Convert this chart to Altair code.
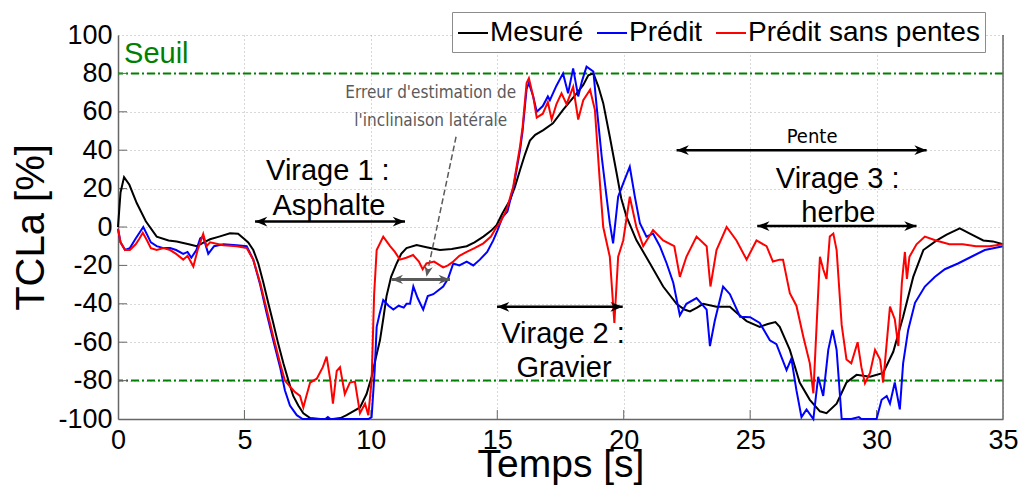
import altair as alt
import pandas as pd
import math

# ---------------- data ----------------
# Mesuré (black)
t_mes = [0, 0.1, 0.24, 0.45, 0.74, 1.1, 1.53, 2.0, 2.32, 2.8, 3.11, 3.4, 3.64, 4.0, 4.43, 4.75, 4.96,
         5.15, 5.35, 5.55, 5.75, 5.95, 6.14, 6.34, 6.54, 6.74, 6.93, 7.13, 7.33, 7.6, 8.0, 8.5, 8.8,
         9.04, 9.3, 9.57, 9.83, 10.03, 10.2, 10.36, 10.5, 10.62, 10.8, 11.02, 11.2, 11.41, 11.81, 12.2,
         12.73, 13.2, 13.79, 14.1, 14.45, 14.75, 14.97, 15.2, 15.5, 15.7, 15.9, 16.1, 16.29, 16.5,
         16.82, 17.2, 17.6, 18.14, 18.4, 18.6, 18.8, 19.0, 19.19, 19.45, 19.72, 19.9, 20.11, 20.5,
         21.04, 21.56, 22.09, 22.4, 22.62, 22.9, 23.14, 23.67, 24.2, 24.5, 24.86, 25.38, 25.7, 26.0,
         26.17, 26.57, 26.96, 27.36, 27.76, 28.02, 28.42, 28.81, 29.21, 29.74, 30.26, 30.66, 31.05,
         31.45, 31.85, 32.38, 32.77, 33.29, 33.69, 34.22, 34.6, 35.0]
v_mes = [0, 18, 26, 22, 12.5, 3, -5, -7, -7.6, -9, -10, -8, -6.4, -5, -3.3, -3.5, -5.9,
         -8, -12, -19, -29, -40, -50, -61, -71, -80, -88, -93, -97, -99.5, -100, -100, -99.5,
         -98, -96, -94, -87, -78, -68, -59, -47, -36, -26, -19, -14, -11, -9.4, -10.5,
         -12, -11.5, -10, -8, -5, -2, 1, 7, 14, 21, 29.7, 38, 45, 48,
         50.5, 54, 61, 69.6, 74, 79, 80, 73, 64.5, 47, 28, 15, 5.4, -6.8,
         -19, -31, -40, -43, -44, -42, -40, -41.5, -41.5, -45, -49, -52, -50.5, -49.5,
         -52, -64, -81, -90, -96, -97, -92, -81, -77, -78, -76, -65, -46.7,
         -26, -12, -7, -4, -0.7, -3.4, -7, -7.5, -9]

# Prédit (blue)
t_pred = [0, 0.1, 0.28, 0.47, 0.7, 0.85, 1.0, 1.15, 1.3, 1.53, 1.8, 2.06, 2.3, 2.58, 2.75, 2.9, 3.1,
          3.25, 3.37, 3.57, 3.8, 4.17, 4.7, 5.09, 5.35, 5.62, 5.88, 6.14, 6.41, 6.6, 6.8, 7.07, 7.3,
          8.2, 8.3, 8.4, 9.9, 10.03, 10.15, 10.23, 10.35, 10.49, 10.7, 10.89, 11.1, 11.3, 11.41,
          11.55, 11.68, 11.85, 12.07, 12.25, 12.47, 12.86, 13.05, 13.26, 13.5, 13.79, 14.05, 14.31,
          14.6, 14.84, 15.0, 15.2, 15.4, 15.63, 15.9, 16.0, 16.16, 16.25, 16.42, 16.56, 16.8, 17.0,
          17.08, 17.34, 17.6, 17.8, 18.0, 18.2, 18.35, 18.53, 18.8, 18.93, 19.13, 19.32, 19.45,
          19.58, 19.78, 19.98, 20.24, 20.44, 20.64, 20.9, 21.16, 21.43, 21.7, 21.96, 22.22, 22.48,
          22.88, 23.28, 23.41, 23.6, 23.93, 24.2, 24.6, 25.0, 25.38, 25.78, 26.04, 26.44, 26.63,
          26.83, 27.03, 27.23, 27.5, 27.69, 27.89, 28.09, 28.26, 28.42, 28.62, 29.0, 29.3, 29.4,
          30.0, 30.2, 30.4, 30.53, 30.72, 30.92, 31.05, 31.25, 31.52, 31.91, 32.3, 32.7, 33.22,
          33.75, 34.28, 35.0]
v_pred = [-1, -8, -12, -11, -6, -3, 0, -4, -8, -10, -11, -11, -12, -14, -13, -16, -12,
          -6, -5, -14, -10, -9, -9.5, -10, -17, -30, -45, -59, -73, -85, -93, -98, -100,
          -100, -99, -100, -100, -99, -75, -52, -45, -38, -41, -43, -41, -42, -40,
          -40, -31, -37, -43, -36, -35, -31, -27, -19, -20, -18, -20, -17,
          -13, -7, -2, 5, 8, 20, 40, 50, 72, 75, 68, 60, 63, 68,
          66, 73.6, 80, 69.6, 82.6, 68, 76, 83.5, 81, 62.7, 36.6, 15.8, 2,
          -8.5, 15.8, 22.7, 31.4, 15.8, 2, -5, -3.4, -10, -19, -29, -46, -40,
          -37, -43, -62, -49, -31, -35, -46.7, -47, -50, -59, -61, -74.5, -68.5,
          -85, -99, -95, -100, -78, -88, -64, -53.6, -64, -100, -100, -99, -100,
          -100, -90, -88, -92, -81, -95, -71, -53.6, -39.5, -31, -26, -22, -19,
          -15.5, -12, -10]

# Prédit sans pentes (red)
t_psp = [0, 0.1, 0.28, 0.47, 0.7, 0.85, 0.98, 1.15, 1.3, 1.53, 1.8, 2.06, 2.3, 2.58, 2.75, 2.98,
         3.15, 3.37, 3.5, 3.64, 4.17, 4.7, 5.09, 5.35, 5.62, 5.88, 6.14, 6.41, 6.6, 6.86, 7.0, 7.2,
         7.33, 7.45, 7.6, 7.86, 8.1, 8.25, 8.4, 8.5, 8.65, 8.78, 8.97, 9.17, 9.37, 9.57, 9.77, 9.9,
         10.03, 10.13, 10.23, 10.49, 10.76, 10.95, 11.15, 11.4, 11.67, 11.9, 12.05, 12.2, 12.5,
         12.86, 13.05, 13.26, 13.5, 13.79, 14.1, 14.45, 14.75, 14.97, 15.1, 15.37, 15.63, 15.9,
         16.0, 16.16, 16.25, 16.42, 16.56, 16.8, 17.0, 17.15, 17.34, 17.54, 17.74, 18.0, 18.2,
         18.4, 18.67, 18.86, 19.06, 19.19, 19.45, 19.63, 19.78, 19.98, 20.24, 20.5, 20.77, 21.16,
         21.56, 22.0, 22.22, 22.48, 22.88, 23.28, 23.43, 23.67, 24.07, 24.46, 24.86, 25.25, 25.65,
         25.9, 26.17, 26.3, 26.57, 26.83, 27.1, 27.36, 27.5, 27.63, 27.76, 27.89, 28.02, 28.15,
         28.29, 28.42, 28.62, 28.81, 29.0, 29.25, 29.4, 29.54, 29.74, 29.94, 30.14, 30.26, 30.53,
         30.72, 30.86, 31.0, 31.12, 31.2, 31.3, 31.58, 31.91, 32.35, 32.88, 33.41, 33.93, 34.46,
         35.0]
v_psp = [-1, -8, -12, -12, -9, -6, -3, -7, -11, -12, -11, -12, -14, -17, -15, -20.6,
         -12, -3.6, -10, -8, -9.5, -10, -11, -17, -29, -43, -57, -71, -80, -84, -86, -88,
         -94, -88, -81, -79, -73, -67.5, -80, -92, -75, -73, -87, -81, -80.5, -97, -92, -98,
         -80, -35, -12, -5, -10, -13, -17, -16, -14.6, -18, -22, -19, -18,
         -21, -20, -18, -15, -13, -11, -8.5, -5, 0, 2, 9, 21, 42,
         52, 75, 77.5, 68, 57, 59, 65, 56, 64, 69.6, 64, 73, 56,
         66, 71.5, 61, 22.7, 0, -15.5, -50, -15.5, -7, 15.8, 0, -10, -1.6,
         -7, -10, -26, -15.5, -5, -10, -31, -12, 0, -7, -17, -7, -10,
         -18, -17, -17, -34.5, -41, -57, -71, -86.6, -51, -15.5, -22, -27, -5,
         -3.4, -12, -51, -69, -71, -60, -73, -81.4, -76, -64, -69, -81, -41.5,
         -48, -62, -29, -13, -27, -15.5, -9, -5, -7, -9, -9, -10, -10,
         -9]

series_names = ["Mesuré", "Prédit", "Prédit sans pentes"]
series_colors = ["#000000", "#0000ff", "#ff0000"]

x_ticks = [0, 5, 10, 15, 20, 25, 30, 35]
y_ticks = [-100, -80, -60, -40, -20, 0, 20, 40, 60, 80, 100]
thresholds = [80, -80]

# annotations (data coordinates)
black_labels = ["Virage 1 :", "Asphalte", "Virage 2 :", "Gravier", "Virage 3 :", "herbe"]
black_label_t = [8.3, 8.34, 17.6, 17.64, 28.46, 28.49]
black_label_v = [24.5, 6.25, -60.5, -78, 20.3, 2.6]

gray_labels = ["Erreur d'estimation de", "l'inclinaison latérale"]
gray_label_t = [12.37, 12.37]
gray_label_v = [67.2, 52.6]

pente_label = ["Pente"]
pente_t = [27.45]
pente_v = [43.75]

seuil_label = ["Seuil"]
seuil_t = [0.24]
seuil_v = [85.4]

# black double arrows
arrow_v = [2.8, -41.6, 40.0, 0.5]
arrow_t1 = [5.42, 14.99, 22.09, 25.28]
arrow_t2 = [11.35, 19.96, 31.98, 31.58]

# grey double arrow
garrow_v = [-27.3]
garrow_t1 = [10.82]
garrow_t2 = [13.13]

# dashed pointer arrow (start -> end)
dash_t = [13.37, 12.2]
dash_v = [47.0, -25.9]

# ---------------- chart ----------------
W, H = 885, 384
FONT = "Liberation Sans, Arial, Helvetica, sans-serif"
NARROW = "Liberation Sans Narrow, Arial Narrow, DejaVu Sans Condensed, sans-serif"
GREEN = "#008000"
GREY = "#5a5a5a"
HEAD = "M0,0L-2,-0.8L-1.4,0L-2,0.8Z"

x_scale = alt.Scale(domain=[0, 35], nice=False, zero=False)
y_scale = alt.Scale(domain=[-100, 100], nice=False, zero=False)

x_axis = alt.Axis(values=x_ticks, title="Temps [s]", titleFont=FONT, titleFontSize=39,
                  titleFontWeight="normal", titleColor="black", titleY=57,
                  titleBaseline="alphabetic", labelFont=FONT, labelFontSize=27,
                  labelColor="black", labelPadding=8, labelFlush=False, labelOverlap=False,
                  labelExpr="'' + datum.value", ticks=False, domainColor="#666666",
                  domainWidth=1.5, grid=True, gridColor="#b0b0b0", gridDash=[1, 3],
                  gridWidth=1)
y_axis = alt.Axis(values=y_ticks, title="TCLa [%]", titleFont=FONT, titleFontSize=40,
                  titleFontWeight="normal", titleColor="black", titleX=-75, titleY=H / 2,
                  titleAngle=270, titleBaseline="alphabetic", titleAlign="center",
                  labelFont=FONT, labelFontSize=27, labelColor="black", labelPadding=6,
                  labelFlush=False, labelOverlap=False, labelExpr="'' + datum.value",
                  ticks=False, domainColor="#666666", domainWidth=1.5, grid=True,
                  gridColor="#b0b0b0", gridDash=[1, 3], gridWidth=1)

X = alt.X("t:Q", scale=x_scale, axis=x_axis)
Y = alt.Y("v:Q", scale=y_scale, axis=y_axis)

legend = alt.Legend(orient="none", legendX=334, legendY=-23, direction="horizontal",
                    title=None, symbolType="stroke", symbolSize=900, symbolStrokeWidth=2,
                    labelFont=FONT, labelFontSize=28, labelColor="black", labelOffset=1,
                    columnPadding=9, padding=5, strokeColor="#8c8c8c", fillColor="white",
                    labelLimit=500)
color = alt.Color("serie:N", scale=alt.Scale(domain=series_names, range=series_colors),
                  legend=legend)

frames = []
for name, ts, vs in zip(series_names, [t_mes, t_pred, t_psp], [v_mes, v_pred, v_psp]):
    frames.append(pd.DataFrame({"t": ts, "v": vs, "serie": name}))

line_layers = [
    alt.Chart(f).mark_line(strokeWidth=2, interpolate="linear").encode(x=X, y=Y, color=color)
    for f in frames
]

thr_df = pd.DataFrame({"v": thresholds})
thr = alt.Chart(thr_df).mark_rule(color=GREEN, strokeWidth=2, strokeDash=[8, 3, 2, 3]).encode(y=Y)

# inward ticks
xt = pd.DataFrame({"t": x_ticks[1:-1], "v": -100.0, "v2": -100 + 9 * 200 / H})
xtick = alt.Chart(xt).mark_rule(color="#666666", strokeWidth=1).encode(x=X, y=Y, y2="v2:Q")
yt = pd.DataFrame({"v": y_ticks[1:-1], "t": 0.0, "t2": 9 * 35 / W})
ytick = alt.Chart(yt).mark_rule(color="#666666", strokeWidth=1).encode(y=Y, x=X, x2="t2:Q")

# right border
rb = alt.Chart(pd.DataFrame({"t": [35], "v": [-100], "v2": [100]})).mark_rule(
    color="#666666", strokeWidth=1.5).encode(x=X, y=Y, y2="v2:Q")

# black arrows
arr_df = pd.DataFrame({"t": arrow_t1, "t2": arrow_t2, "v": arrow_v})
arr_lines = alt.Chart(arr_df).mark_rule(color="black", strokeWidth=2.5).encode(x=X, x2="t2:Q", y=Y)
heads = pd.DataFrame({
    "t": arrow_t1 + arrow_t2,
    "v": arrow_v + arrow_v,
    "ang": [180] * len(arrow_t1) + [0] * len(arrow_t2),
})
arr_heads = alt.Chart(heads).mark_point(shape=HEAD, filled=True, size=150, color="black",
                                         opacity=1).encode(
    x=X, y=Y, angle=alt.Angle("ang:Q", scale=None))

# grey double arrow
garr_df = pd.DataFrame({"t": garrow_t1, "t2": garrow_t2, "v": garrow_v})
garr_line = alt.Chart(garr_df).mark_rule(color=GREY, strokeWidth=3).encode(x=X, x2="t2:Q", y=Y)
gheads = pd.DataFrame({"t": garrow_t1 + garrow_t2, "v": garrow_v + garrow_v, "ang": [180, 0]})
garr_heads = alt.Chart(gheads).mark_point(shape=HEAD, filled=True, size=130, color=GREY,
                                           opacity=1).encode(
    x=X, y=Y, angle=alt.Angle("ang:Q", scale=None))

# dashed pointer
dx = (dash_t[1] - dash_t[0]) * W / 35
dy = -(dash_v[1] - dash_v[0]) * H / 200
dang = math.degrees(math.atan2(dy, dx))
dash_df = pd.DataFrame({"t": [dash_t[0]], "v": [dash_v[0]], "t2": [dash_t[1]], "v2": [dash_v[1]]})
dash_line = alt.Chart(dash_df).mark_rule(color=GREY, strokeWidth=1.5, strokeDash=[6, 3]).encode(
    x=X, y=Y, x2="t2:Q", y2="v2:Q")
dhead = pd.DataFrame({"t": [dash_t[1]], "v": [dash_v[1]], "ang": [dang]})
dash_head = alt.Chart(dhead).mark_point(shape=HEAD, filled=True, size=110, color=GREY,
                                         opacity=1).encode(
    x=X, y=Y, angle=alt.Angle("ang:Q", scale=None))

# texts
tb = alt.Chart(pd.DataFrame({"t": black_label_t, "v": black_label_v, "txt": black_labels})).mark_text(
    font=FONT, fontSize=29, color="black", align="center", baseline="alphabetic").encode(
    x=X, y=Y, text="txt:N")
tg = alt.Chart(pd.DataFrame({"t": gray_label_t, "v": gray_label_v, "txt": gray_labels})).mark_text(
    font=NARROW, fontSize=17, color=GREY, align="center", baseline="alphabetic").encode(
    x=X, y=Y, text="txt:N")
tp = alt.Chart(pd.DataFrame({"t": pente_t, "v": pente_v, "txt": pente_label})).mark_text(
    font=NARROW, fontSize=20, color="black", align="center", baseline="alphabetic").encode(
    x=X, y=Y, text="txt:N")
ts_ = alt.Chart(pd.DataFrame({"t": seuil_t, "v": seuil_v, "txt": seuil_label})).mark_text(
    font=FONT, fontSize=29, color=GREEN, align="left", baseline="alphabetic").encode(
    x=X, y=Y, text="txt:N")

chart = alt.layer(
    thr, xtick, ytick, *line_layers, rb,
    arr_lines, arr_heads, garr_line, garr_heads, dash_line, dash_head,
    tb, tg, tp, ts_,
).properties(
    width=W, height=H,
    padding={"left": 110, "top": 27, "right": 15, "bottom": 66},
    autosize=alt.AutoSizeParams(type="none"),
).configure_view(stroke=None)

chart.save("out.html", embed_options={"renderer": "svg", "actions": False})
